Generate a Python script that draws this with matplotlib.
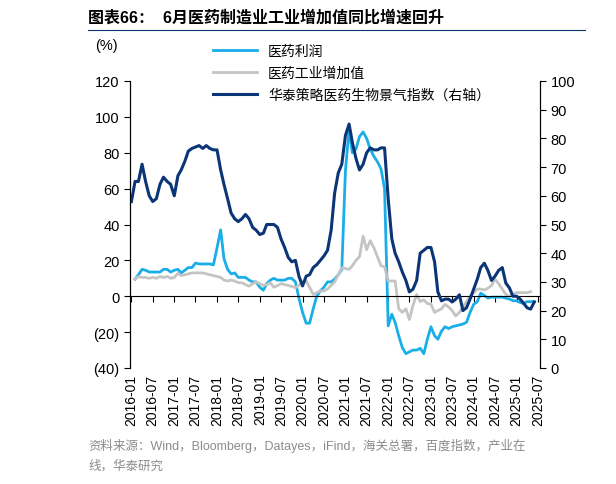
import numpy as np
import pandas as pd
import matplotlib
matplotlib.use('Agg')
import matplotlib.pyplot as plt

plt.rcParams['font.family'] = ['Liberation Sans', 'Noto Sans CJK SC', 'DejaVu Sans']

months = pd.date_range('2016-01-01', '2025-06-01', freq='MS')
nan = np.nan

# 医药利润 (%, left axis)
profit = [nan, 9.5, 12, 15, 14.5, 13.5, 13.5, 13.5, 13.5, 15, 15, 13.5, 14.5, 15, 13, 14.5,
          16, 16, 18.5, 18, 18, 18, 18, 17.5, 27, 37, 21, 15, 12.5, 13, 10.5, 10.5, 10.5, 9,
          8, 8, 5, 3.4, 7, 9, 10, 9, 9, 9, 10, 10, 8, -1, -9, -15, -15, -7, 0, 3, 5, 8, 8,
          9.5, 12, 15, 70, 93, 80, 82, 89, 91.6, 88, 82, 78, 75, 71, 60, -16.5, -10, -14.5,
          -22, -28.5, -32, -31, -30, -30, -29, -32, -24, -17, -22, -24, -19.5, -17, -18, -17,
          -16.5, -16, -15.5, -14.5, -9, -4.5, -3, 1.7, 0.4, -1, -0.5, -0.5, -0.5, -0.5, -1.1,
          -1.5, -2.5, -2.5, -3.5, -4, -3, -3, -3]

# 医药工业增加值 (%, left axis)
value_added = [nan, 9.5, 11, 10.5, 10.5, 10, 10.5, 10, 11, 10.5, 11, 10, 10.5, 12.8, 11.5, 12,
               12.5, 13, 13, 13, 13, 12.5, 12, 11.5, 11, 10.5, 9, 8.5, 9, 8.5, 7.6, 7.5, 6.5,
               5.6, 7, 8, 7, 6, 6.5, 7.5, 5, 6, 7, 6.5, 6, 5.5, 4.8, 6, 8, 8.5, 5, 1, 2, 3, 3,
               4, 6, 8, 12, 16, 15.5, 15, 17, 20, 22, 33.5, 26, 31, 27, 22, 17, 16.5, 8.5, 8.5,
               8.5, -7, -9, -7, -13, -5, 1, -3, -2, -4, -4.5, -9, -8, -7, -4.5, -6, -8, -11,
               -9, -6, -3, 0, 2, 4, 4, 3.5, 4.5, 6, 9.5, 7, 4, 1, 0, 1, 2, 2, 2, 2, 2.5, nan]

# 华泰策略医药生物景气指数 (right axis)
index = [58, 65, 65, 71, 65, 60, 58, 59, 64, 66.5, 65, 64, 60, 67, 69, 72, 75.6, 76.5, 77,
         77.5, 76.5, 77.5, 76.5, 76, 76, 69, 64, 59, 54, 52, 51, 52, 53.5, 52, 49, 48, 46.5,
         47, 50, 50, 50, 49, 45, 42, 38.5, 37, 37.5, 32, 28.6, 32, 32.5, 35, 36, 37.5, 39,
         41, 48, 61, 68, 71, 81, 85, 78.6, 73, 69, 71, 75, 76.7, 76, 76, 76.7, 76.7, 59, 45,
         40, 37, 33.5, 30.5, 26.5, 27.5, 30.5, 40, 41, 42, 42, 37, 26.5, 23.4, 24, 24, 23,
         24, 25.5, 20, 21, 24, 27.5, 31, 35, 36.5, 34, 30.5, 32, 34, 35, 29.6, 27.9, 25, 25,
         24, 22.6, 21, 20.5, 23]

tick_dates = pd.date_range('2016-01-01', '2025-07-01', freq='6MS')

fig = plt.figure(figsize=(6.16, 4.85), dpi=100)
ax = fig.add_axes([130 / 616, 1 - 369 / 485, 410 / 616, 287 / 485])
ax2 = ax.twinx()

l1, = ax.plot(months, profit, color='#1AAEE8', lw=2, label='医药利润')
l2, = ax.plot(months, value_added, color='#C4C4C4', lw=2, label='医药工业增加值')
l3, = ax2.plot(months, index, color='#0B3577', lw=2.2, label='华泰策略医药生物景气指数（右轴）')

ax.set_ylim(-40, 120)
ax.set_yticks(range(-40, 121, 20))
ax.set_yticklabels([f'({-v})' if v < 0 else str(v) for v in range(-40, 121, 20)])
ax2.set_ylim(0, 100)
ax2.set_yticks(range(0, 101, 10))
ax.set_xlim(pd.Timestamp('2015-12-20'), pd.Timestamp('2025-07-20'))

for a in (ax, ax2):
    a.spines['top'].set_visible(False)
    a.spines['bottom'].set_visible(False)
    a.tick_params(axis='y', labelsize=10.5, direction='out', length=4)
ax.spines['bottom'].set_visible(True)
ax.spines['bottom'].set_position(('data', 0))
ax.set_xticks(tick_dates)
ax.tick_params(axis='x', labelbottom=False, direction='out', length=4)

sec = ax.secondary_xaxis('bottom')
sec.set_xticks(tick_dates)
sec.set_xticklabels([d.strftime('%Y-%m') for d in tick_dates], rotation=90, fontsize=10)
sec.tick_params(length=0, pad=4)
sec.spines['bottom'].set_visible(False)

fig.text(95 / 616, 1 - 46 / 485, '(%)', fontsize=10.5, va='center')
fig.legend(handles=[l1, l2, l3], loc='upper left', bbox_to_anchor=(200 / 616, 1 - 32 / 485),
           frameon=False, fontsize=10, handlelength=3.2, labelspacing=0.6)

fig.text(88 / 616, 1 - 18 / 485, '图表66：  6月医药制造业工业增加值同比增速回升',
         fontsize=11.5, fontweight='bold', va='center')
fig.add_artist(plt.Line2D([88 / 616, 585 / 616], [1 - 31 / 485] * 2, color='#0B3577', lw=0.8))
fig.text(88 / 616, 1 - 446 / 485, '资料来源：Wind，Bloomberg，Datayes，iFind，海关总署，百度指数，产业在',
         fontsize=9, color='#8C8C8C', va='center')
fig.text(88 / 616, 1 - 466 / 485, '线，华泰研究', fontsize=9, color='#8C8C8C', va='center')

fig.savefig('out.png', dpi=100)
